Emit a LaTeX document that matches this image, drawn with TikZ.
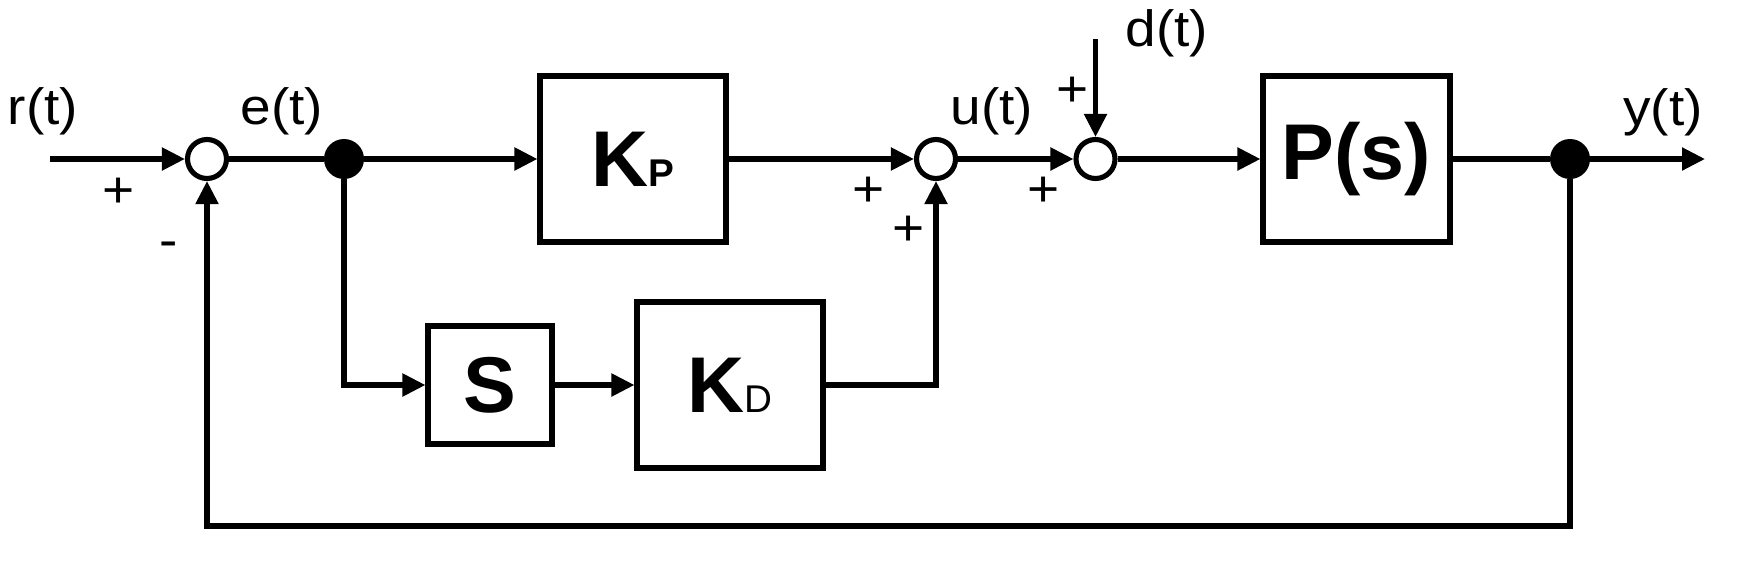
\documentclass[tikz,border=0pt]{standalone}
\usepackage{fontspec}
\setmainfont{Liberation Sans}
\newfontfamily\lblfont[FakeStretch=1.08]{Liberation Sans}
\usetikzlibrary{arrows.meta,positioning}

\begin{document}
\begin{tikzpicture}[
  line width=1.45pt,
  block/.style={rectangle, draw, inner sep=0pt, font=\fontsize{22.5}{26}\selectfont\bfseries},
  sumpt/.style={circle, draw, fill=white, minimum size=0.39cm, inner sep=0pt},
  dot/.style={circle, fill, minimum size=0.40cm, inner sep=0pt, outer sep=0pt},
  arrow/.style={-{Triangle[length=0.23cm, width=0.22cm]}},
  lbl/.style={font=\lblfont\fontsize{14.5}{17}\selectfont, inner sep=0pt},
]
\useasboundingbox (0,0) rectangle (17.42,-5.60);

% === BLOCKS ===
\node[block, minimum width=1.86cm, minimum height=1.66cm] (kp) at (6.33,-1.59) {K{\fontsize{11}{12}\selectfont P}};
\node[block, minimum width=1.24cm, minimum height=1.18cm] (s) at (4.90,-3.85) {S};
\node[block, minimum width=1.86cm, minimum height=1.66cm] (kd) at (7.30,-3.85) {K{\fontsize{11}{12}\selectfont\mdseries D}};
\node[block, minimum width=1.87cm, minimum height=1.66cm] (plant) at (13.565,-1.59) {P(s)};

% === SUMMING POINTS AND BRANCHES ===
\node[sumpt] (sum1) at (2.07,-1.59) {};
\node[sumpt] (sum2) at (9.36,-1.59) {};
\node[sumpt] (sum3) at (10.955,-1.59) {};
\node[dot] (br1) at (3.44,-1.59) {};
\node[dot] (br2) at (15.70,-1.59) {};

\coordinate (ref) at (0.50,-1.59);
\coordinate (dist) at (10.955,-0.39);
\coordinate (out) at (17.05,-1.59);
\coordinate (fb) at (15.70,-5.26);

% === SIGNALS ===
\draw[arrow] (ref) -- (sum1);
\draw (sum1) -- (br1);
\draw[arrow] (br1) -- (kp);
\draw[arrow] (br1) |- (s);
\draw[arrow] (s) -- (kd);
\draw[arrow] (kd) -| (sum2);
\draw[arrow] (kp) -- (sum2);
\draw[arrow] (sum2) -- (sum3);
\draw[arrow] (dist) -- (sum3);
\draw[arrow] (sum3) -- (plant);
\draw (plant) -- (br2);
\draw[arrow] (br2) -- (out);
\draw[arrow] (br2) -- (fb) -| (sum1);

% === LABELS ===
\node[lbl] (lr) at (0.43,-1.115) {r(t)};
\node[lbl] (le) at (2.82,-1.115) {e(t)};
\node[lbl] (lu) at (9.92,-1.115) {u(t)};
\node[lbl] (ld) at (11.67,-0.33) {d(t)};
\node[lbl] (ly) at (16.63,-1.12) {y(t)};
\node[lbl] (p1) at (1.19,-1.93) {+};
\node[lbl] (m1) at (1.69,-2.50) {-};
\node[lbl] (p2) at (8.69,-1.92) {+};
\node[lbl] (p3) at (9.09,-2.31) {+};
\node[lbl] (p4) at (10.44,-1.92) {+};
\node[lbl] (p5) at (10.73,-0.92) {+};
\end{tikzpicture}
\end{document}
